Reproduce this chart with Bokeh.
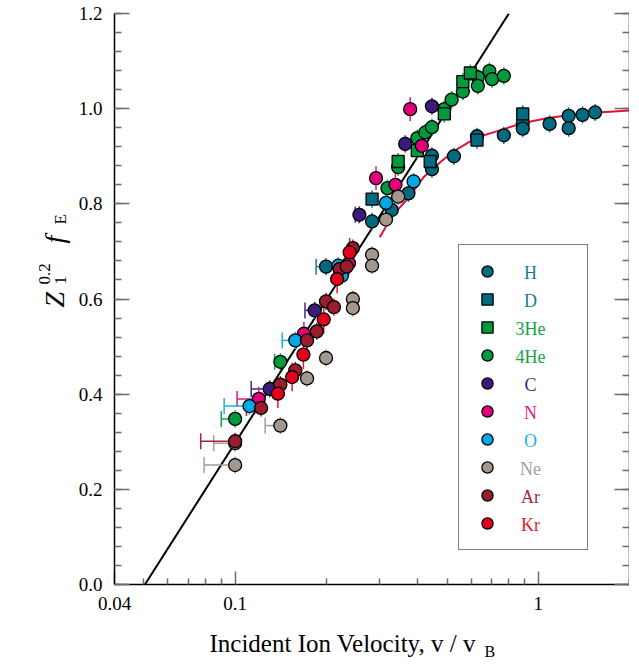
import numpy as np
from bokeh.plotting import figure
from bokeh.layouts import row, column
from bokeh.models import (Range1d, FixedTicker, LinearAxis, CustomJSTickFormatter,
                          Legend, LegendItem, Label)
from bokeh.embed import file_html
from bokeh.resources import INLINE

# ---------------- data ----------------
H_v = [0.1995, 0.283, 0.3286, 0.373, 0.446, 0.446, 0.527, 0.628, 0.770, 0.889, 0.889, 1.09, 1.26, 1.26, 1.40, 1.54]
H_f = [0.668, 0.763, 0.787, 0.822, 0.901, 0.873, 0.900, 0.942, 0.944, 0.970, 0.958, 0.968, 0.985, 0.959, 0.987, 0.992]

D_v = [0.283, 0.44, 0.628, 0.889]
D_f = [0.810, 0.889, 0.934, 0.989]

He3_v = [0.345, 0.399, 0.490, 0.564, 0.597]
He3_f = [0.889, 0.912, 0.989, 1.057, 1.075]

He4_v = [0.100, 0.141, 0.318, 0.345, 0.399, 0.424, 0.446, 0.490, 0.518, 0.564, 0.632, 0.632, 0.690, 0.704, 0.770]
He4_f = [0.348, 0.468, 0.833, 0.877, 0.938, 0.950, 0.961, 0.999, 1.019, 1.036, 1.066, 1.048, 1.079, 1.062, 1.069]

C_v = [0.130, 0.183, 0.257, 0.364, 0.446]
C_f = [0.411, 0.576, 0.777, 0.926, 1.005]

N_v = [0.1197, 0.1686, 0.2374, 0.2916, 0.338, 0.378, 0.413]
N_f = [0.390, 0.527, 0.675, 0.854, 0.840, 0.999, 0.922]

O_v = [0.1115, 0.158, 0.219, 0.225, 0.3146, 0.388]
O_f = [0.375, 0.513, 0.670, 0.649, 0.802, 0.847]

Ne_v = [0.100, 0.100, 0.141, 0.1727, 0.1995, 0.2446, 0.2446, 0.283, 0.283, 0.3146, 0.345]
Ne_f = [0.251, 0.297, 0.334, 0.433, 0.476, 0.600, 0.581, 0.693, 0.670, 0.767, 0.815]

Ar_v = [0.100, 0.1218, 0.141, 0.158, 0.1727, 0.186, 0.1995, 0.2118, 0.221, 0.2335, 0.2446]
Ar_f = [0.301, 0.371, 0.420, 0.450, 0.513, 0.532, 0.595, 0.583, 0.663, 0.668, 0.707]

Kr_v = [0.1384, 0.1542, 0.168, 0.196, 0.217, 0.2387]
Kr_f = [0.401, 0.436, 0.483, 0.557, 0.642, 0.698]

# horizontal (low-side) velocity error bars: (species, v, f, lower v)
XERR_species = ["Ne", "Ne", "Ar", "4He", "O", "N", "Ar", "Ne", "C", "4He", "O", "C", "H", "C"]
XERR_v = [0.100, 0.100, 0.100, 0.100, 0.1115, 0.1197, 0.1218, 0.141, 0.130, 0.141, 0.158, 0.183, 0.1995, 0.257]
XERR_f = [0.251, 0.297, 0.301, 0.348, 0.375, 0.390, 0.371, 0.334, 0.411, 0.468, 0.513, 0.576, 0.668, 0.777]
XERR_lo = [0.079, 0.085, 0.077, 0.090, 0.092, 0.1015, 0.109, 0.1256, 0.113, 0.135, 0.143, 0.170, 0.185, 0.249]

# vertical error half-width per species
YERR = {"H": 0.018, "D": 0.018, "3He": 0.018, "4He": 0.018, "C": 0.018, "N": 0.025,
        "O": 0.018, "Ne": 0.018, "Ar": 0.018, "Kr": 0.03}

# straight-line fit and the H curve
LINE_v = [0.0504, 0.80]
LINE_f = [0.0, 1.2]
CURVE_v = [0.30, 0.33, 0.37, 0.42, 0.48, 0.53, 0.63, 0.77, 0.89, 1.09, 1.40, 2.0]
CURVE_f = [0.73, 0.775, 0.81, 0.857, 0.89, 0.912, 0.94, 0.957, 0.97, 0.981, 0.99, 0.996]

X_TICKS = [0.04, 0.1, 1.0]
X_MINOR = [0.05, 0.06, 0.07, 0.08, 0.09, 0.2, 0.3, 0.4, 0.5, 0.6, 0.7, 0.8, 0.9, 2.0]
Y_TICKS = [0.0, 0.2, 0.4, 0.6, 0.8, 1.0, 1.2]
Y_MINOR = [round(0.04 * k, 2) for k in range(31)]

LEGEND_ORDER = ["H", "D", "3He", "4He", "C", "N", "O", "Ne", "Ar", "Kr"]

# ---------------- styling ----------------
FILL = {"H": "#006A80", "D": "#006A80", "3He": "#009A3E", "4He": "#009A3E", "C": "#3C1A7C",
        "N": "#E2007A", "O": "#00A8E6", "Ne": "#A3988F", "Ar": "#9A1D2E", "Kr": "#E3001B"}
TEXTC = {"H": "#1A7D90", "D": "#1A7D90", "3He": "#17A14E", "4He": "#17A14E", "C": "#452786",
         "N": "#E2187F", "O": "#1AB0E8", "Ne": "#A79D95", "Ar": "#A02838", "Kr": "#E21A2C"}
MARK = {"H": "circle", "D": "square", "3He": "square", "4He": "circle", "C": "circle",
        "N": "circle", "O": "circle", "Ne": "circle", "Ar": "circle", "Kr": "circle"}

DATA = {"H": (H_v, H_f), "D": (D_v, D_f), "3He": (He3_v, He3_f), "4He": (He4_v, He4_f),
        "C": (C_v, C_f), "N": (N_v, N_f), "O": (O_v, O_f), "Ne": (Ne_v, Ne_f),
        "Ar": (Ar_v, Ar_f), "Kr": (Kr_v, Kr_f)}

SERIF = "Liberation Serif"

# layout sizes (page pixels)
YT_W = 72            # width of the y-title strip
FRAME_LEFT = 114     # page x of the plot frame's left edge
LEFT = FRAME_LEFT - YT_W
TOP = 13
FRAME_W, FRAME_H = 515, 571
BOTTOM = 38
XT_H = 42
XT_TOP = TOP + FRAME_H + BOTTOM
TOTAL_H = XT_TOP + XT_H

p = figure(frame_width=FRAME_W, frame_height=FRAME_H, x_axis_type="log",
           x_range=Range1d(0.04, 2.0), y_range=Range1d(0.0, 1.2),
           output_backend="svg", toolbar_location=None,
           min_border_left=LEFT, min_border_top=TOP, min_border_bottom=BOTTOM, min_border_right=0)
p.outline_line_color = None
p.xgrid.visible = False
p.ygrid.visible = False

TICK_COLOR = "#6b6b6b"

xa = p.xaxis[0]
xa.ticker = FixedTicker(ticks=X_TICKS, minor_ticks=X_MINOR)
xa.formatter = CustomJSTickFormatter(code="return String(tick)")
ya = p.yaxis[0]
ya.ticker = FixedTicker(ticks=Y_TICKS, minor_ticks=Y_MINOR)
ya.formatter = CustomJSTickFormatter(code="return tick.toFixed(1)")

ra = LinearAxis(ticker=FixedTicker(ticks=Y_TICKS, minor_ticks=Y_MINOR),
                formatter=CustomJSTickFormatter(code="return ''"))
p.add_layout(ra, "right")

for ax in (xa, ya, ra):
    ax.axis_label = None
    ax.axis_label_standoff = 0
    ax.axis_line_color = "black"
    ax.axis_line_width = 1.5
    ax.major_tick_line_color = TICK_COLOR
    ax.minor_tick_line_color = TICK_COLOR
    ax.major_tick_line_width = 1.5
    ax.minor_tick_line_width = 1.5
    ax.major_tick_out = 0
    ax.minor_tick_out = 0
    ax.major_label_text_font = SERIF
    ax.major_label_text_font_style = "normal"
    ax.major_label_text_font_size = "19px"
    ax.major_label_text_color = "black"
xa.major_tick_in = 13
xa.minor_tick_in = 6
xa.major_label_standoff = 12
ya.major_tick_in = 15
ya.minor_tick_in = 7
ya.major_label_standoff = 12
ra.major_tick_in = 15
ra.minor_tick_in = 7
ra.major_label_standoff = 0


def lab(fig, x, y, text, size, style="normal", angle=0, color="black",
        align="left", baseline="alphabetic"):
    fig.add_layout(Label(x=x, y=y, x_units="screen", y_units="screen", text=text,
                         text_font=SERIF, text_font_size=size, text_font_style=style,
                         angle=angle, angle_units="deg", text_align=align,
                         text_baseline=baseline, text_color=color))


# legend labels (coloured) inside the frame
LEG_X, LEG_Y, LEG_PAD, LEG_GW, LEG_GH = 344, 34, 12, 32, 28
n = len(LEGEND_ORDER)
leg_top = LEG_Y + 2 * LEG_PAD + n * LEG_GH
for i, sp in enumerate(LEGEND_ORDER):
    yc = leg_top - LEG_PAD - LEG_GH / 2 - i * LEG_GH
    lab(p, LEG_X + 72, yc, sp, "18px", color=TEXTC[sp], align="center", baseline="middle")

# lines
p.line(LINE_v, LINE_f, line_color="black", line_width=2)
p.line(CURVE_v, CURVE_f, line_color="#E3103A", line_width=2)

# horizontal error bars (line + cap at the low end)
for sp in LEGEND_ORDER:
    idx = [i for i, s in enumerate(XERR_species) if s == sp]
    if not idx:
        continue
    xv = [XERR_v[i] for i in idx]
    xf = [XERR_f[i] for i in idx]
    xl = [XERR_lo[i] for i in idx]
    p.segment(x0=xl, y0=xf, x1=xv, y1=xf, line_color=TEXTC[sp], line_width=1.5)
    p.scatter(xl, xf, marker="dash", angle=np.pi / 2, size=16, line_color=TEXTC[sp], line_width=1.5)

# vertical error bars
for sp in LEGEND_ORDER:
    v, f = DATA[sp]
    f = np.array(f)
    p.segment(x0=v, y0=f - YERR[sp], x1=v, y1=f + YERR[sp], line_color=TEXTC[sp], line_width=1.5)

# points
DRAW_ORDER = ["H", "D", "4He", "3He", "C", "N", "O", "Ne", "Ar", "Kr"]
rend = {}
for sp in DRAW_ORDER:
    v, f = DATA[sp]
    size = 13 if MARK[sp] == "circle" else 12
    rend[sp] = p.scatter(v, f, marker=MARK[sp], size=size, fill_color=FILL[sp],
                         line_color="black", line_width=1.3)

legend = Legend(items=[LegendItem(label="", renderers=[rend[sp]]) for sp in LEGEND_ORDER],
                location=(LEG_X, LEG_Y), glyph_width=LEG_GW, glyph_height=LEG_GH,
                spacing=0, padding=LEG_PAD, margin=0, label_width=62, label_standoff=10,
                label_height=LEG_GH, label_text_font_size="10px",
                border_line_color="black", border_line_width=1.2,
                background_fill_alpha=0.0)
p.add_layout(legend)


def strip(w, h):
    f = figure(width=w, height=h, x_range=Range1d(0, w), y_range=Range1d(0, h),
               output_backend="svg", toolbar_location=None,
               x_axis_location=None, y_axis_location=None,
               min_border_left=0, min_border_right=0, min_border_top=0, min_border_bottom=0)
    f.outline_line_color = None
    f.xgrid.visible = False
    f.ygrid.visible = False
    return f


# y-axis title strip:  Z_1^0.2  f_E  (rotated, reading upward); page coords -> strip coords
yt = strip(YT_W, TOTAL_H)
lab(yt, 54, TOTAL_H - 307, "Z", "28px", "italic", 90)
lab(yt, 60, TOTAL_H - 284, "1", "17px", "normal", 90)
lab(yt, 44, TOTAL_H - 284, "0.2", "17px", "normal", 90)
lab(yt, 54, TOTAL_H - 243, "f", "28px", "italic", 90)
lab(yt, 60, TOTAL_H - 224, "E", "17px", "normal", 90)

# x-axis title strip (its frame is aligned with the plot frame by the column layout)
xt = strip(FRAME_W, XT_H)
lab(xt, 209 - FRAME_LEFT, TOTAL_H - 643, "Incident Ion Velocity, v / v", "25px")
lab(xt, 484 - FRAME_LEFT, TOTAL_H - 651, "B", "16px")

layout = row(yt, column(p, xt, spacing=0), spacing=0)

open("out.html", "w").write(file_html(layout, INLINE))
